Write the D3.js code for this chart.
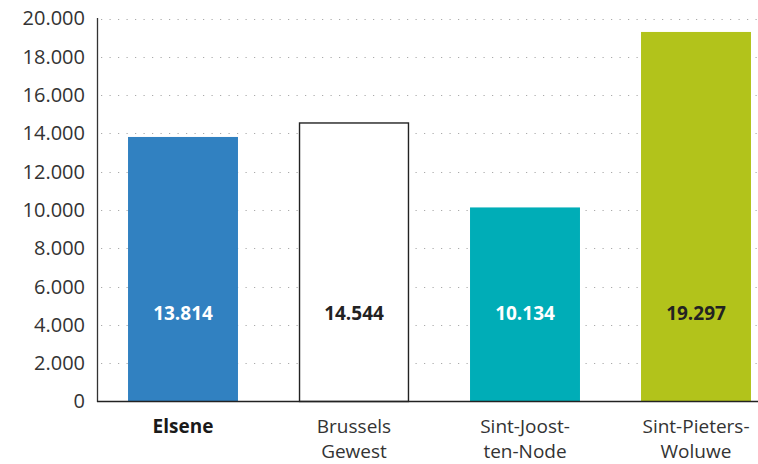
<!DOCTYPE html>
<html><head><meta charset="utf-8">
<script src="https://cdn.jsdelivr.net/npm/d3@7"></script>
<style>body{margin:0;background:#fff}svg{display:block}</style>
</head><body>
<svg id="c" width="758" height="464"></svg>
<script>
const categories = [["Elsene"], ["Brussels", "Gewest"], ["Sint-Joost-", "ten-Node"], ["Sint-Pieters-", "Woluwe"]];
const values = [13814, 14544, 10134, 19297];
const labels = ["13.814", "14.544", "10.134", "19.297"];
const fills = ["#3181c1", "#ffffff", "#00adb7", "#b2c31b"];
const labelColors = ["#ffffff", "#222222", "#ffffff", "#222222"];
const ticks = [0, 2000, 4000, 6000, 8000, 10000, 12000, 14000, 16000, 18000, 20000];
const tickLabels = ["0", "2.000", "4.000", "6.000", "8.000", "10.000", "12.000", "14.000", "16.000", "18.000", "20.000"];

const svg = d3.select("#c");
const font = "'Open Sans', sans-serif";
const x = d3.scaleBand().domain(d3.range(values.length)).range([97.5, 781.5]).paddingInner(0.357).paddingOuter(0.1785);
const y = d3.scaleLinear().domain([0, 20000]).range([401.5, 18.5]);

// gridlines
svg.append("g").selectAll("line").data(ticks.slice(1)).join("line")
  .attr("x1", 101).attr("x2", 758)
  .attr("y1", d => Math.round(y(d)) + 0.5).attr("y2", d => Math.round(y(d)) + 0.5)
  .attr("stroke", "#aaaaaa").attr("stroke-width", 1.2).attr("stroke-dasharray", "1.2 7.3");

// y axis
const yAxis = d3.axisLeft(y).tickValues(ticks).tickFormat((d, i) => tickLabels[i]).tickSize(0).tickPadding(12);
const gy = svg.append("g").attr("transform", "translate(97,0)").call(yAxis);
gy.select(".domain").remove();
gy.selectAll("text").attr("font-family", font).attr("font-size", 20).attr("fill", "#333");
svg.append("line").attr("x1", 97.5).attr("x2", 97.5).attr("y1", 18).attr("y2", 402).attr("stroke", "#333").attr("stroke-width", 1.3);

// bars
svg.append("g").selectAll("rect").data(values).join("rect")
  .attr("x", (d, i) => x(i) + (i === 1 ? 0.5 : 0))
  .attr("width", (d, i) => x.bandwidth() - (i === 1 ? 1 : 0))
  .attr("y", d => y(d))
  .attr("height", d => y(0) - y(d))
  .attr("fill", (d, i) => fills[i])
  .attr("stroke", (d, i) => i === 1 ? "#222" : "none")
  .attr("stroke-width", 1.4);

// baseline
svg.append("line").attr("x1", 97).attr("x2", 758).attr("y1", 401.5).attr("y2", 401.5).attr("stroke", "#222").attr("stroke-width", 1.5);

// value labels
svg.append("g").selectAll("text").data(labels).join("text")
  .attr("x", (d, i) => x(i) + x.bandwidth() / 2).attr("y", 320)
  .attr("text-anchor", "middle").attr("font-family", font).attr("font-weight", "bold")
  .attr("font-size", 19).attr("fill", (d, i) => labelColors[i]).text(d => d);

// category labels
const cg = svg.append("g").selectAll("text").data(categories).join("text")
  .attr("text-anchor", "middle").attr("font-family", font).attr("font-size", 19)
  .attr("fill", (d, i) => i === 0 ? "#1a1a1a" : "#333")
  .attr("font-weight", (d, i) => i === 0 ? "bold" : "normal");
cg.selectAll("tspan").data((d, i) => d.map(t => ({t, i}))).join("tspan")
  .attr("x", d => x(d.i) + x.bandwidth() / 2)
  .attr("y", (d, j) => 433 + j * 25)
  .text(d => d.t);
</script>
</body></html>
